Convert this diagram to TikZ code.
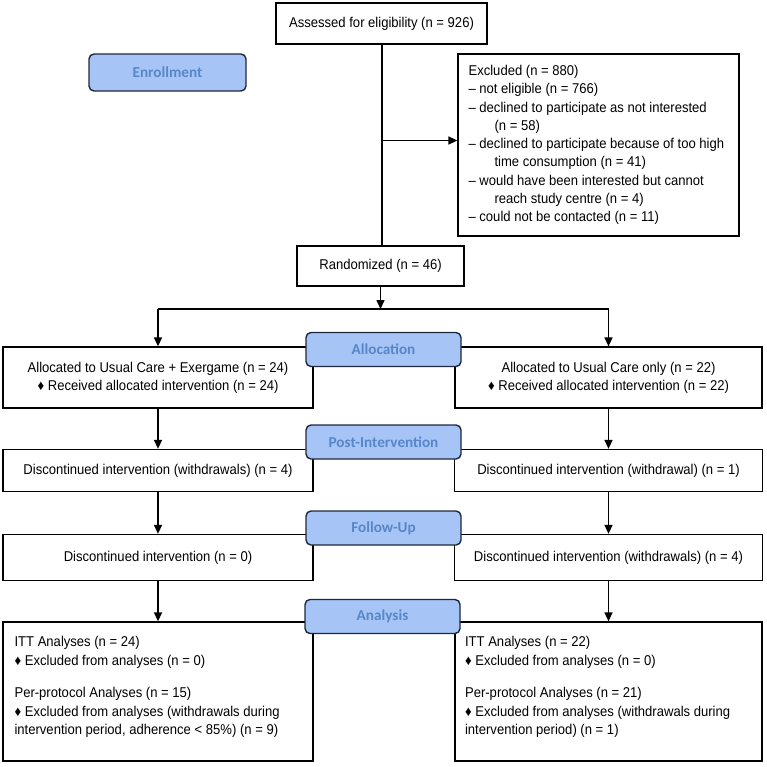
\documentclass[tikz,border=0pt]{standalone}
\usepackage{fontspec}
\setmainfont{Liberation Sans}[FakeStretch=0.92]
\newfontfamily\labfont{Carlito}
\usetikzlibrary{arrows.meta,positioning,calc}
\definecolor{labfill}{RGB}{166,197,246}
\definecolor{labtext}{RGB}{88,134,200}
\definecolor{labdraw}{RGB}{30,40,60}
\begin{document}
\begin{tikzpicture}[x=1pt,y=-1pt,
  box/.style={draw=black,line width=1.3pt,fill=white,inner sep=0pt,
    font=\fontsize{14.2}{18.3}\selectfont},
  lab/.style={draw=labdraw,line width=1.4pt,fill=labfill,rounded corners=5pt,
    minimum width=155pt,minimum height=34pt,inner sep=0pt,text=labtext,
    font=\labfont\bfseries\fontsize{15.2}{17}\selectfont},
  txt/.style={inner sep=0pt,align=left,anchor=north west,
    font=\fontsize{14.2}{18.3}\selectfont},
  arr/.style={line width=1.5pt,-{Triangle[length=9pt,width=8pt]}},
  ln/.style={line width=1.5pt}]
\useasboundingbox (0,0) rectangle (767,766);

% boxes
\node[box,minimum width=211pt,minimum height=41pt] (ass) at (381.5,23.5) {Assessed for eligibility (n = 926)};
\node[box,minimum width=281pt,minimum height=182pt] (exc) at (598.5,145) {};
\node[txt,anchor=west] (exct) at ($(exc.west)+(11,0)$)
 {Excluded (n = 880)\\
  – not eligible (n = 766)\\
  – declined to participate as not interested\\
  \hspace*{26pt}(n = 58)\\
  – declined to participate because of too high\\
  \hspace*{26pt}time consumption (n = 41)\\
  – would have been interested but cannot\\
  \hspace*{26pt}reach study centre (n = 4)\\
  – could not be contacted (n = 11)};
\node[box,minimum width=167pt,minimum height=40pt] (rand) at (380.5,266) {Randomized (n = 46)};

\node[box,minimum width=310pt,minimum height=61pt,align=center] (a1) at (158,377.5)
 {Allocated to Usual Care + Exergame (n = 24)\\ ♦ Received allocated intervention (n = 24)};
\node[box,minimum width=307pt,minimum height=61pt,align=center] (a2) at (608.5,377.5)
 {Allocated to Usual Care only (n = 22)\\ ♦ Received allocated intervention (n = 22)};

\node[box,minimum width=310pt,minimum height=42pt] (p1) at (158,470.5) {Discontinued intervention (withdrawals) (n = 4)};
\node[box,minimum width=308pt,minimum height=42pt] (p2) at (608.5,470.5) {Discontinued intervention (withdrawal) (n = 1)};

\node[box,minimum width=310pt,minimum height=46pt] (f1) at (158,557.5) {Discontinued intervention (n = 0)};
\node[box,minimum width=308pt,minimum height=46pt] (f2) at (608.5,557.5) {Discontinued intervention (withdrawals) (n = 4)};

\node[box,minimum width=310pt,minimum height=139pt] (n1) at (158,691.5) {};
\node[box,minimum width=307pt,minimum height=139pt] (n2) at (608.5,691.5) {};
\node[txt] (t1) at ($(n1.north west)+(12,15)$)
 {ITT Analyses (n = 24)\\
  ♦ Excluded from analyses (n = 0)\\[14.4pt]
  Per-protocol Analyses (n = 15)\\
  ♦ Excluded from analyses (withdrawals during\\
  intervention period, adherence < 85\%) (n = 9)};
\node[txt] (t2) at ($(n2.north west)+(10.5,15)$)
 {ITT Analyses (n = 22)\\
  ♦ Excluded from analyses (n = 0)\\[14.4pt]
  Per-protocol Analyses (n = 21)\\
  ♦ Excluded from analyses (withdrawals during\\
  intervention period) (n = 1)};

% connectors
\coordinate (jn) at (382,140.5);
\coordinate (sp) at (380.5,309);
\coordinate (sl) at (158,309);
\coordinate (sr) at (608.5,309);
\draw[ln] (ass.south -| jn) -- (rand.north -| jn);
\draw[arr] (jn) -- (jn -| exc.west);
\draw[arr] (rand.south) -- (sp);
\draw[ln] (sl) -- (sr);
\draw[arr] (sl) -- (a1.north);
\draw[arr] (sr) -- (a2.north);
\draw[arr] (a1.south) -- (p1.north);
\draw[arr] (a2.south) -- (p2.north);
\draw[arr] (p1.south) -- (f1.north);
\draw[arr] (p2.south) -- (f2.north);
\draw[arr] (f1.south) -- (n1.north);
\draw[arr] (f2.south) -- (n2.north);

% stage labels
\node[lab,minimum width=157pt,minimum height=37pt] (enr) at (167.5,72.5) {Enrollment};
\node[lab] (alloc) at (383.5,349.5) {Allocation};
\node[lab] (post) at (383.5,442) {Post-Intervention};
\node[lab] (fu) at (383.5,528) {Follow-Up};
\node[lab] (ana) at (382.5,616.5) {Analysis};
\end{tikzpicture}
\end{document}
